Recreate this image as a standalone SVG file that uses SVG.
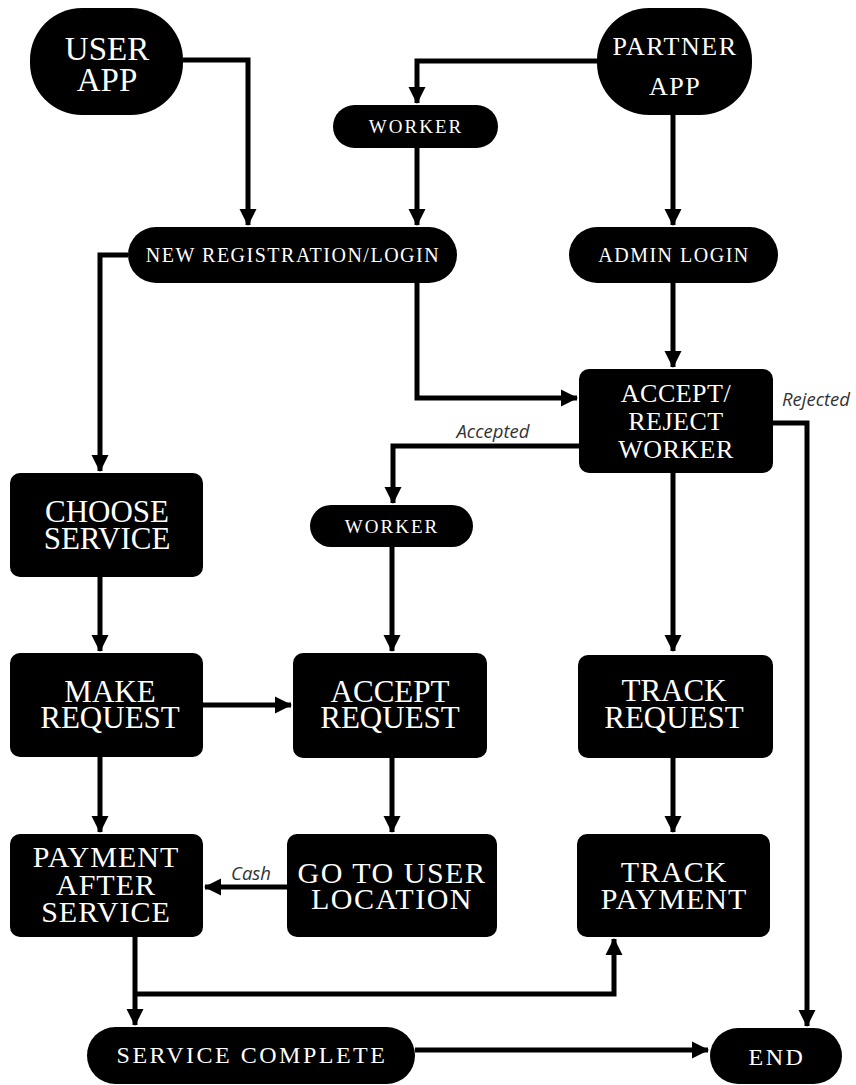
<svg xmlns="http://www.w3.org/2000/svg" width="856" height="1085" viewBox="0 0 856 1085">
<style>
.n{fill:#000}
.t{fill:#fff;font-family:"Liberation Serif","DejaVu Serif",serif;text-anchor:middle}
.big{font-size:31px}
.mid{font-size:26px;letter-spacing:0.5px}
.sm{font-size:20px;letter-spacing:1.5px}
.wk{font-size:19px;letter-spacing:2px}
.bt{font-size:24px;letter-spacing:2.5px}
.c{fill:none;stroke:#000;stroke-width:5;stroke-linejoin:miter}
.lbl{fill:#333;font-family:"Open Sans","Noto Sans",sans-serif;font-style:italic;font-size:18.5px;text-anchor:middle}
</style>
<defs>
<marker id="ah" markerUnits="userSpaceOnUse" markerWidth="18" markerHeight="18" refX="16" refY="8.5" orient="auto" viewBox="0 0 18 17">
<path d="M0,0 L17,8.5 L0,17 z" fill="#000"/>
</marker>
</defs>
<rect width="856" height="1085" fill="#fff"/>

<g id="connectors">
<path class="c" d="M183,60 H248 V225" marker-end="url(#ah)"/>
<path class="c" d="M597,61 H417 V103" marker-end="url(#ah)"/>
<path class="c" d="M417,148 V225" marker-end="url(#ah)"/>
<path class="c" d="M673,115 V225" marker-end="url(#ah)"/>
<path class="c" d="M128,255 H100 V471" marker-end="url(#ah)"/>
<path class="c" d="M417,283 V398 H577" marker-end="url(#ah)"/>
<path class="c" d="M673,283 V367" marker-end="url(#ah)"/>
<path class="c" d="M579,446 H393 V503" marker-end="url(#ah)"/>
<path class="c" d="M773,423 H807 V1026" marker-end="url(#ah)"/>
<path class="c" d="M673,473 V651" marker-end="url(#ah)"/>
<path class="c" d="M392,547 V651" marker-end="url(#ah)"/>
<path class="c" d="M100,577 V651" marker-end="url(#ah)"/>
<path class="c" d="M203,705 H291" marker-end="url(#ah)"/>
<path class="c" d="M100,757 V832" marker-end="url(#ah)"/>
<path class="c" d="M392,758 V832" marker-end="url(#ah)"/>
<path class="c" d="M673,758 V832" marker-end="url(#ah)"/>
<path class="c" d="M287,887 H205" marker-end="url(#ah)"/>
<path class="c" d="M135,937 V1025" marker-end="url(#ah)"/>
<path class="c" d="M135,994 H614 V939" marker-end="url(#ah)"/>
<path class="c" d="M415,1050 H708" marker-end="url(#ah)"/>
<text class="lbl" x="493" y="438">Accepted</text>
<text class="lbl" x="816" y="406">Rejected</text>
<text class="lbl" x="251" y="880">Cash</text>
</g>

<g id="user-app">
<rect class="n" x="30" y="8" width="153" height="107" rx="52" ry="52"/>
<text class="t" x="107" y="60" font-size="33">USER</text>
<text class="t" x="107" y="91" font-size="33">APP</text>
</g>
<g id="partner-app">
<rect class="n" x="597" y="8" width="155" height="107" rx="52" ry="52"/>
<text class="t" x="675" y="55" font-size="26" letter-spacing="1.5">PARTNER</text>
<text class="t" x="675" y="95" font-size="26" letter-spacing="1.5">APP</text>
</g>
<g id="worker-1">
<rect class="n" x="333" y="105" width="165" height="43" rx="21.5"/>
<text class="t wk" x="416" y="133">WORKER</text>
</g>
<g id="new-registration">
<rect class="n" x="128" y="227" width="329" height="56" rx="28"/>
<text class="t sm" x="293" y="262">NEW REGISTRATION/LOGIN</text>
</g>
<g id="admin-login">
<rect class="n" x="569" y="227" width="209" height="56" rx="28"/>
<text class="t sm" x="674" y="262">ADMIN LOGIN</text>
</g>
<g id="accept-reject">
<rect class="n" x="579" y="369" width="194" height="104" rx="10"/>
<text class="t mid" x="676" y="402">ACCEPT/</text>
<text class="t mid" x="676" y="430">REJECT</text>
<text class="t mid" x="676" y="458">WORKER</text>
</g>
<g id="worker-2">
<rect class="n" x="310" y="505" width="163" height="42" rx="21"/>
<text class="t wk" x="392" y="533">WORKER</text>
</g>
<g id="choose-service">
<rect class="n" x="10" y="473" width="193" height="104" rx="10"/>
<text class="t big" x="107" y="522">CHOOSE</text>
<text class="t big" x="107" y="549">SERVICE</text>
</g>
<g id="make-request">
<rect class="n" x="10" y="653" width="193" height="104" rx="10"/>
<text class="t big" x="110" y="702">MAKE</text>
<text class="t big" x="110" y="728">REQUEST</text>
</g>
<g id="accept-request">
<rect class="n" x="293" y="653" width="194" height="105" rx="10"/>
<text class="t big" x="390" y="702">ACCEPT</text>
<text class="t big" x="390" y="728">REQUEST</text>
</g>
<g id="track-request">
<rect class="n" x="578" y="655" width="195" height="103" rx="10"/>
<text class="t big" x="674" y="701">TRACK</text>
<text class="t big" x="674" y="728">REQUEST</text>
</g>
<g id="payment-after-service">
<rect class="n" x="10" y="834" width="193" height="103" rx="10"/>
<text class="t" x="106" y="867" font-size="30" letter-spacing="1">PAYMENT</text>
<text class="t" x="106" y="895" font-size="30" letter-spacing="1">AFTER</text>
<text class="t" x="106" y="922" font-size="30" letter-spacing="1">SERVICE</text>
</g>
<g id="go-to-user-location">
<rect class="n" x="287" y="834" width="210" height="103" rx="10"/>
<text class="t" x="392" y="883" font-size="30" letter-spacing="1.5">GO TO USER</text>
<text class="t" x="392" y="909" font-size="30" letter-spacing="1.5">LOCATION</text>
</g>
<g id="track-payment">
<rect class="n" x="577" y="834" width="193" height="103" rx="10"/>
<text class="t" x="674" y="882" font-size="30" letter-spacing="1">TRACK</text>
<text class="t" x="674" y="909" font-size="30" letter-spacing="1">PAYMENT</text>
</g>
<g id="service-complete">
<rect class="n" x="87" y="1027" width="328" height="57" rx="28.5"/>
<text class="t bt" x="252" y="1063">SERVICE COMPLETE</text>
</g>
<g id="end">
<rect class="n" x="710" y="1028" width="132" height="56" rx="28"/>
<text class="t bt" x="777" y="1065">END</text>
</g>
</svg>
